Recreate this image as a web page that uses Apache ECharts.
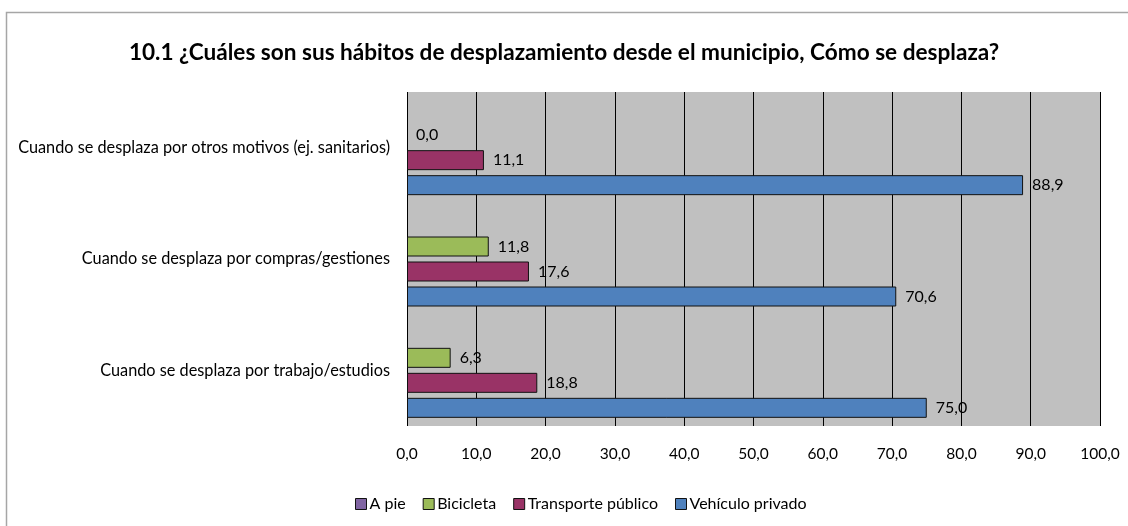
<!DOCTYPE html>
<html>
<head>
<meta charset="utf-8">
<script src="https://cdn.jsdelivr.net/npm/echarts@6/dist/echarts.min.js"></script>
<style>
  html, body { margin: 0; padding: 0; background: #ffffff; }
  #chart { width: 1128px; height: 526px; }
</style>
</head>
<body>
<div id="chart"></div>
<script>
// Survey answers: share of respondents (%) by transport mode and trip purpose
const titleText = '10.1 ¿Cuáles son sus hábitos de desplazamiento desde el municipio, Cómo se desplaza?';
const categories = [
  'Cuando se desplaza por trabajo/estudios',
  'Cuando se desplaza por compras/gestiones',
  'Cuando se desplaza por otros motivos (ej. sanitarios)'
];
const seriesNames = ['A pie', 'Bicicleta', 'Transporte público', 'Vehículo privado'];
const aPie = [null, null, null];
const bicicleta = [6.3, 11.8, 0.0];
const transportePublico = [18.8, 17.6, 11.1];
const vehiculoPrivado = [75.0, 70.6, 88.9];
const xTicks = [0, 10, 20, 30, 40, 50, 60, 70, 80, 90, 100];

const colors = ['#8064A2', '#9BBB59', '#993366', '#4F81BD'];
const FONT = 'Lato';

const fmt = v => v.toFixed(1).replace('.', ',');

const values = [aPie, bicicleta, transportePublico, vehiculoPrivado];

const chart = echarts.init(document.getElementById('chart'), null, { renderer: 'canvas' });

const series = seriesNames.map((name, i) => ({
  name: name,
  type: 'bar',
  // zero-length bars get no outline, only their label
  data: values[i].map(v => (v === 0 ? { value: v, itemStyle: { borderWidth: 0 } } : v)),
  barWidth: 20,
  barGap: '25%',
  itemStyle: { color: colors[i], borderColor: '#111111', borderWidth: 1 },
  label: {
    show: true,
    position: 'right',
    distance: 9,
    color: '#000000',
    fontFamily: FONT,
    fontSize: 16,
    formatter: p => (p.value == null ? '' : fmt(p.value))
  },
  emphasis: { disabled: true }
}));

chart.setOption({
  animation: false,
  color: colors,
  title: {
    text: titleText,
    left: 'center',
    top: 36,
    textStyle: { fontFamily: FONT, fontWeight: 'bold', fontSize: 22.6, color: '#000000' }
  },
  grid: {
    left: 407, right: 28, top: 92, bottom: 100,
    show: true, backgroundColor: '#C0C0C0', borderColor: '#C0C0C0', borderWidth: 0
  },
  legend: {
    data: seriesNames,
    top: 491,
    left: 350,
    itemWidth: 11,
    itemHeight: 11,
    itemGap: 17,
    icon: 'rect',
    textStyle: { fontFamily: FONT, fontSize: 16, color: '#000000', padding: [0, 0, 0, -2] },
    itemStyle: { borderColor: '#111111', borderWidth: 1 }
  },
  xAxis: {
    type: 'value',
    min: xTicks[0],
    max: xTicks[xTicks.length - 1],
    interval: xTicks[1] - xTicks[0],
    axisLine: { show: false },
    axisTick: { show: false },
    axisLabel: {
      fontFamily: FONT, fontSize: 15.5, color: '#000000', margin: 20,
      formatter: v => fmt(v)
    },
    splitLine: { show: true, lineStyle: { color: '#000000', width: 1 } }
  },
  yAxis: {
    type: 'category',
    data: categories,
    axisLine: { show: false },
    axisTick: { show: false },
    axisLabel: { fontFamily: FONT, fontSize: 16.3, color: '#000000', margin: 17 }
  },
  series: series,
  graphic: [{
    type: 'rect',
    shape: { x: 6.5, y: 12.5, width: 1130, height: 530 },
    style: { fill: 'none', stroke: '#A6A6A6', lineWidth: 1.5 },
    silent: true
  }]
});
</script>
</body>
</html>
